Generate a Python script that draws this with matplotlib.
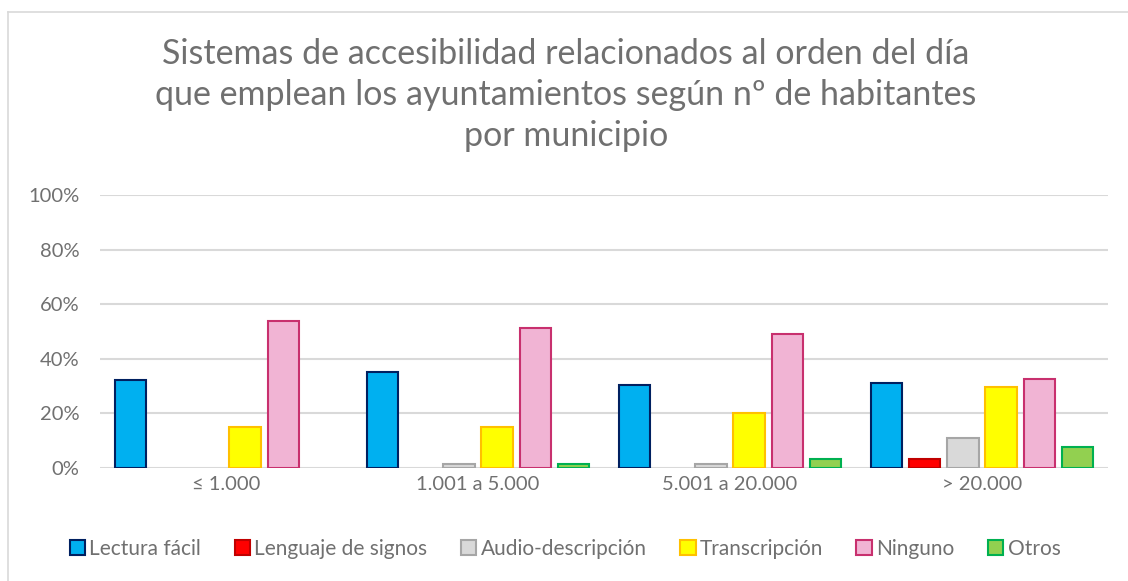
import matplotlib
matplotlib.use("Agg")
import matplotlib.pyplot as plt
from matplotlib.lines import Line2D
from matplotlib.ticker import PercentFormatter
import numpy as np

plt.rcParams['font.family'] = ['Lato', 'DejaVu Sans']

categories = ["≤ 1.000", "1.001 a 5.000", "5.001 a 20.000", "> 20.000"]
series_names = ["Lectura fácil", "Lenguaje de signos", "Audio-descripción",
                "Transcripción", "Ninguno", "Otros"]
lectura = [32.3, 35.2, 30.4, 31.2]
lenguaje = [0.0, 0.0, 0.0, 3.2]
audio = [0.0, 1.3, 1.6, 10.9]
transcripcion = [14.9, 14.9, 20.3, 29.6]
ninguno = [54.0, 51.3, 49.2, 32.7]
otros = [0.0, 1.3, 3.4, 7.8]
series_values = [lectura, lenguaje, audio, transcripcion, ninguno, otros]

fills = ["#00B0F0", "#FF0000", "#D9D9D9", "#FFFF00", "#F1B4D4", "#92D050"]
edges = ["#002060", "#C00000", "#A6A6A6", "#FFC000", "#C8306E", "#00B050"]
txt = '#707070'

W, H = 1128, 581
fig = plt.figure(figsize=(W / 100, H / 100), dpi=100)
ax = fig.add_axes([100 / W, 1 - 468 / H, 1008 / W, 273 / H])

x = np.arange(len(categories))
step = 0.1516
width = 0.124
for i, (name, vals) in enumerate(zip(series_names, series_values)):
    offs = (i - 2.5) * step
    lws = [1.5 if v > 0 else 0 for v in vals]
    ax.bar(x + offs, vals, width=width, color=fills[i], edgecolor=edges[i],
           linewidth=lws, label=name, zorder=3)

ax.set_xlim(-0.5, 3.5)
ax.set_ylim(0, 100)
ax.set_yticks(np.arange(0, 101, 20))
ax.yaxis.set_major_formatter(PercentFormatter(decimals=0))
ax.set_xticks(x)
ax.set_xticklabels(categories)
ax.grid(axis='y', color='#D9D9D9', linewidth=1.5, zorder=0)
for s in ax.spines.values():
    s.set_visible(False)
ax.tick_params(axis='both', length=0, labelsize=14.5, labelcolor=txt)
ax.tick_params(axis='y', pad=15)
ax.tick_params(axis='x', pad=6)

fig.text(0.5 + 2 / W, 1 - 95 / H,
         "Sistemas de accesibilidad relacionados al orden del día\n"
         "que emplean los ayuntamientos según nº de habitantes\n"
         "por municipio",
         ha='center', va='center', fontsize=24.5, color=txt,
         linespacing=1.36)

handles = [plt.Rectangle((0, 0), 1, 1, facecolor=fills[i], edgecolor=edges[i],
                         linewidth=1.5) for i in range(6)]
fig.legend(handles, series_names, loc='center', bbox_to_anchor=(565 / W, 1 - 549 / H),
           ncol=6, frameon=False, fontsize=15, labelcolor=txt,
           handlelength=0.75, handleheight=0.75, handletextpad=0.2,
           columnspacing=1.6)

fig.add_artist(Line2D([8 / W, 1.0], [1 - 12 / H, 1 - 12 / H], color='#D9D9D9',
                      linewidth=1.2, transform=fig.transFigure))
fig.add_artist(Line2D([8 / W, 8 / W], [0, 1 - 12 / H], color='#D9D9D9',
                      linewidth=1.2, transform=fig.transFigure))

fig.savefig("out.png", dpi=100)
